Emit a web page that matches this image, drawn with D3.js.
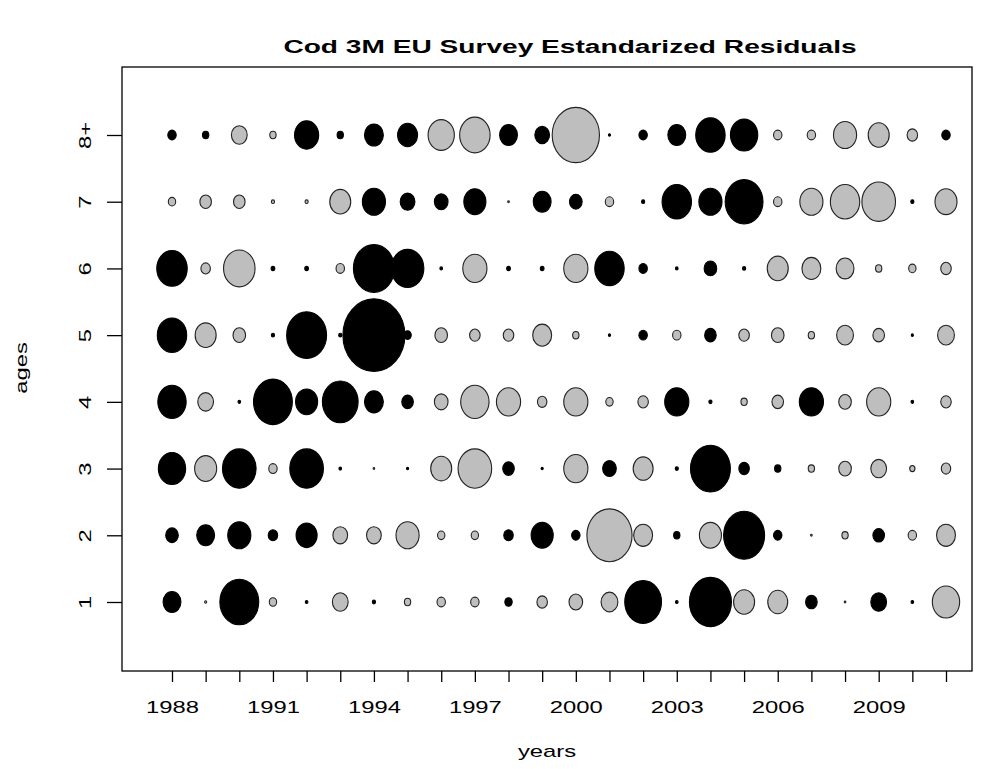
<!DOCTYPE html>
<html>
<head>
<meta charset="utf-8">
<script src="https://cdn.jsdelivr.net/npm/d3@7"></script>
<style>
  body { margin: 0; background: #fff; }
  text { font-family: "Liberation Sans", Arial, sans-serif; }
</style>
</head>
<body>
<script>
// residual bubble plot, black = positive, grey = negative

var years = d3.range(1988, 2012);
var ages = ["1", "2", "3", "4", "5", "6", "7", "8+"];
var yearTicks = [1988, 1991, 1994, 1997, 2000, 2003, 2006, 2009];

// one array per age, values per year 1988..2011
var age1 = [3.4,-0.4,7.4,-1.4,0.5,-3.0,0.6,-1.2,-1.6,-1.6,1.4,-2.0,-2.6,-3.2,7.0,0.5,8.0,-4.0,-3.8,2.2,-0.3,3.0,0.5,-5.2];
var age2 = [2.4,3.4,4.4,1.8,4.0,-2.8,-2.8,-4.4,-1.4,-1.4,1.8,4.2,1.6,-8.6,-3.6,1.2,-4.2,7.8,1.6,-0.3,-1.2,2.2,-1.6,-3.6];
var age3 = [5.2,-4.2,6.4,-1.6,6.4,0.5,-0.3,0.4,-4.0,-6.4,2.2,0.4,-4.6,2.6,-3.8,0.6,7.6,2.0,1.2,-1.2,-2.4,-3.0,-1.0,-1.8];
var age4 = [5.4,-3.0,0.5,7.4,4.2,6.8,3.6,2.2,-2.6,-5.4,-4.6,-1.8,-4.6,-1.4,-2.0,4.6,0.6,-1.2,-2.2,4.6,-2.4,-4.6,0.5,-2.0];
var age5 = [5.6,-4.0,-2.4,0.6,7.6,0.6,11.8,1.4,-2.4,-2.0,-2.0,-3.6,-1.2,0.4,1.6,-1.6,2.2,-2.0,-2.4,-1.2,-3.2,-2.2,0.4,-3.2];
var age6 = [5.8,-1.8,-6.0,0.7,0.7,-1.6,7.8,6.2,0.5,-4.6,0.7,0.7,-4.6,5.6,1.6,0.5,2.4,0.6,-4.0,-3.6,-3.4,-1.2,-1.4,-2.0];
var age7 = [-1.4,-2.2,-2.2,-0.6,-0.6,-4.0,4.4,2.8,2.6,4.2,-0.3,3.4,2.4,-1.6,0.6,5.6,4.4,7.2,-1.6,-4.4,-5.6,-6.4,0.6,-4.2];
var age8 = [1.6,1.2,-3.0,-1.2,4.6,1.2,3.6,3.8,-5.0,-5.8,3.4,2.8,-9.0,0.4,1.6,3.4,5.6,5.2,-1.6,-1.6,-4.4,-4.0,-2.0,1.6];

var series = [age1, age2, age3, age4, age5, age6, age7, age8];

var cells = [];
series.forEach(function(vals, i) {
  vals.forEach(function(v, j) {
    cells.push({age: ages[i], year: years[j], value: v});
  });
});

var W = 984, H = 769;
var svg = d3.select("body").append("svg")
    .attr("width", W).attr("height", H);

var box = {left: 122, right: 972, top: 67, bottom: 671};
var sx = 1.4; // text in the picture is stretched sideways

var x = d3.scaleLinear().domain([1988, 2011]).range([172, 946]);
var y = d3.scalePoint().domain(ages).range([602, 135]);
var r = d3.scaleLinear().domain([0, 11.8]).range([0, 31]);

// bubbles
svg.append("g").selectAll("ellipse")
    .data(cells)
  .enter().append("ellipse")
    .attr("cx", function(d) { return x(d.year); })
    .attr("cy", function(d) { return y(d.age); })
    .attr("rx", function(d) { return r(Math.abs(d.value)); })
    .attr("ry", function(d) { return r(Math.abs(d.value)) * 1.17; })
    .style("fill", function(d) { return d.value > 0 ? "#000" : "#bebebe"; })
    .style("stroke", function(d) { return d.value > 0 ? "#000" : "#222"; })
    .style("stroke-width", 1.1);

// frame
svg.append("rect")
    .attr("x", box.left).attr("y", box.top)
    .attr("width", box.right - box.left).attr("height", box.bottom - box.top)
    .style("fill", "none").style("stroke", "#000").style("stroke-width", 1.3);

// x axis
var xAxis = d3.axisBottom(x)
    .tickValues(years)
    .tickSize(11)
    .tickPadding(14)
    .tickFormat(function(d) { return yearTicks.indexOf(d) >= 0 ? d : ""; });
var gx = svg.append("g")
    .attr("transform", "translate(0," + box.bottom + ")")
    .call(xAxis);
gx.select(".domain").remove();
gx.selectAll("line").style("stroke-width", 1.3);
gx.selectAll("text")
    .style("font-size", "17px").style("fill", "#000")
    .attr("y", null).attr("dy", null)
    .attr("transform", "translate(0,42) scale(" + sx + ",1)");

// y axis
var yAxis = d3.axisLeft(y).tickSize(15).tickPadding(20);
var gy = svg.append("g")
    .attr("transform", "translate(" + box.left + ",0)")
    .call(yAxis);
gy.select(".domain").remove();
gy.selectAll("line").style("stroke-width", 1.3);
gy.selectAll("text")
    .style("font-size", "17px").style("fill", "#000")
    .attr("x", null).attr("dy", null)
    .style("text-anchor", "middle")
    .attr("transform", "translate(-37,0) rotate(-90) scale(" + sx + ",1)")
    .attr("dy", "0.35em");

// titles
svg.append("text")
    .attr("transform", "translate(570,53) scale(1.48,1)")
    .style("text-anchor", "middle")
    .style("font-size", "19px").style("font-weight", "bold")
    .text("Cod 3M EU Survey Estandarized Residuals");

svg.append("text")
    .attr("transform", "translate(547,757) scale(" + sx + ",1)")
    .style("text-anchor", "middle")
    .style("font-size", "17px")
    .text("years");

svg.append("text")
    .attr("transform", "translate(27,368) rotate(-90) scale(" + sx + ",1)")
    .style("text-anchor", "middle")
    .style("font-size", "17px")
    .text("ages");
</script>
</body>
</html>
